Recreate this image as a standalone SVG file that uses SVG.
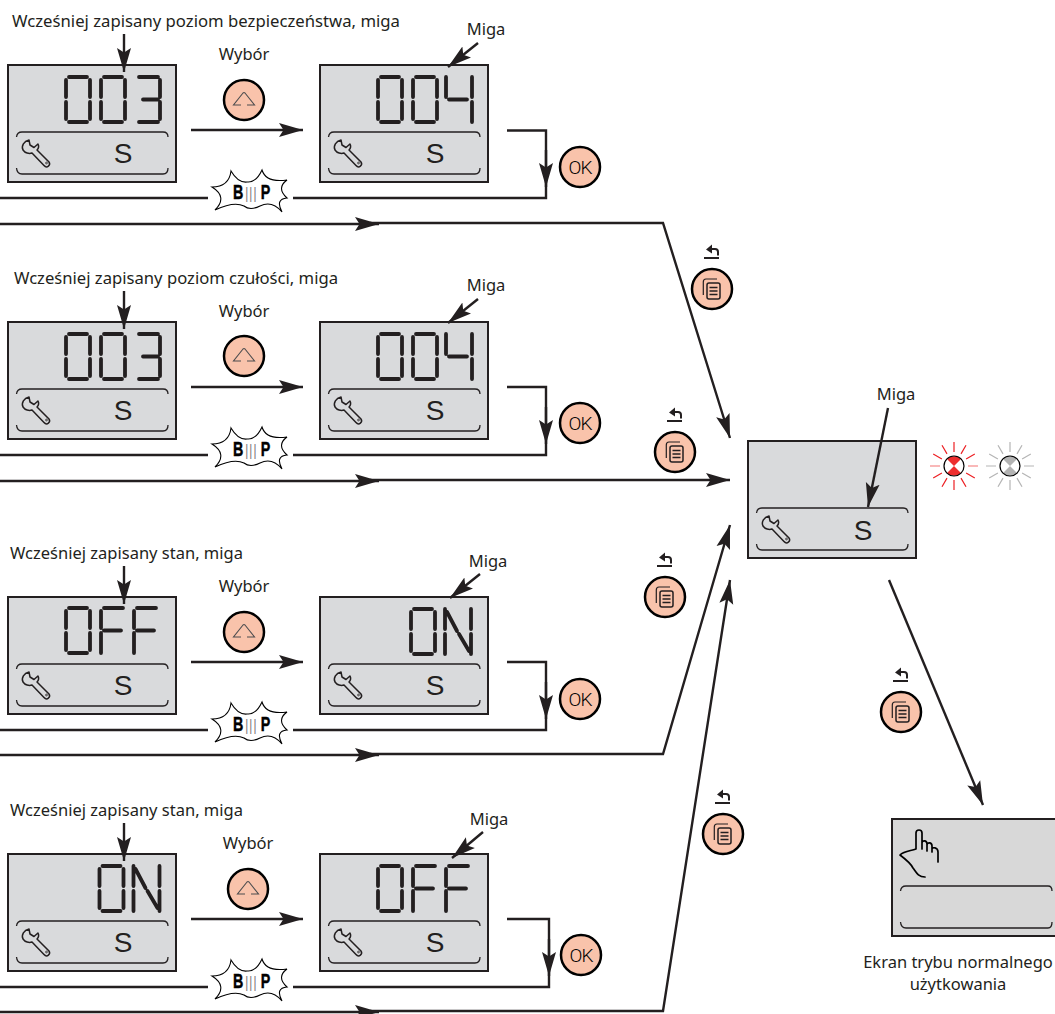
<svg xmlns="http://www.w3.org/2000/svg" width="1055" height="1014" viewBox="0 0 1055 1014">
<style>
.lbl{font-family:"Noto Sans","Open Sans",sans-serif;font-size:16.500px;fill:#231f20}
.long{font-size:16px}
.mid{text-anchor:middle}
.s{font-family:"Liberation Sans",Arial,sans-serif;font-size:28px;fill:#231f20;text-anchor:middle}
.ok{font-family:Roboto,"Liberation Sans",sans-serif;font-weight:300;font-size:19px;fill:#000;text-anchor:middle;letter-spacing:-1px}
.bip{font-family:"Liberation Sans",sans-serif;font-weight:bold;font-size:21px;fill:#000;stroke:#000;stroke-width:.5}
.thin{font-weight:normal;font-size:17px;fill:#777;stroke:none}
.c{fill:none;stroke:#231f20;stroke-width:2.400}
.ce{fill:none;stroke:#231f20;stroke-width:2.400;marker-end:url(#ah)}
.seg{fill:none;stroke:#231f20;stroke-width:3.800;stroke-linecap:round}
.br{fill:none;stroke:#231f20;stroke-width:1.300}
</style>
<defs>
<marker id="ah" markerUnits="userSpaceOnUse" markerWidth="26" markerHeight="16" refX="24" refY="8" orient="auto"><path d="M0,1L24,8L0,15L4.500,8Z" fill="#231f20"/></marker>
<path id="d0" class="seg" d="M4,2H22M25,5V22M25,27V44M4,47H22M1,27V44M1,5V22"/>
<path id="d3" class="seg" d="M2,2H21M23,5V22M23,27V44M2,47H21M6,24.500H21"/>
<path id="d4" class="seg" d="M1,2V22M4,24.500H22M27,2V22M27,27V47"/>
<path id="dF" class="seg" d="M4,2H23M1,5V22M1,27V47M4,24.500H21"/>
<path id="dN" class="seg" d="M1,2V22M1,27V47M27,2V22M27,27V47M3,5L13,24M15,27L25,44"/>
<g id="wrench"><path fill="none" stroke="#231f20" stroke-width="1.500" stroke-linejoin="round" d="M21,75C16,76 13,81 15,85C17,88 21,89 24,88L36,100.500C39,104 43,100 41,97L29,85C31,83 31,81 30,79L26,82.500L22,80Z"/><circle cx="38.500" cy="98" r="0.900" fill="none" stroke="#231f20" stroke-width="0.800"/></g>
<g id="screen"><rect x="0" y="0" width="168" height="117" fill="#d9dadc" stroke="#231f20" stroke-width="2"/><path class="br" d="M8.500,72Q9,67 14,67H155Q160,67 160,72M8.500,103Q9,109 14,109H155Q160,109 160,103"/><use href="#wrench"/></g>
<g id="up"><circle r="20" fill="#f9c3ab" stroke="#000" stroke-width="2.500"/><path fill="none" stroke="#4d4d4f" stroke-width="1.100" d="M-3,5H-10.500L-1,-7Q0,-8 1,-7L10.500,5H3"/></g>
<g id="okb"><circle r="20" fill="#f9c3ab" stroke="#000" stroke-width="2.500"/></g>
<g id="back"><circle r="20" fill="#f9c3ab" stroke="#000" stroke-width="2.500"/><path fill="none" stroke="#231f20" stroke-width="1.200" d="M-8.700,6V-7Q-8.700,-10 -6,-10H5"/><rect x="-5" y="-6" width="13" height="16" rx="2" fill="none" stroke="#231f20" stroke-width="1.500"/><path fill="none" stroke="#231f20" stroke-width="1.300" d="M-2.500,-1.500H5.500M-2.500,2H5.500M-2.500,5.500H5.500"/><path fill="#231f20" d="M-6,-39.500L0,-44.500V-35.500Z"/><path fill="none" stroke="#231f20" stroke-width="2" d="M-1,-40H3Q6,-40 6,-37V-33.500M-8,-31H7"/></g>
<g id="burst"><path fill="#fff" stroke="#000" stroke-width="1.100" d="M-38,-4Q-21,-4 -19,-20Q-12,-8 -3,-9Q6,-8 12,-21Q16,-8 37,-11Q26,-3 37,7Q25,8 32,21Q22,9 10,15Q0,20 -6,15Q-16,10 -35,19Q-22,6 -38,-4Z"/></g>
</defs>

<g id="row1">
<text class="lbl long" x="12" y="27" textLength="388" lengthAdjust="spacingAndGlyphs">Wcześniej zapisany poziom bezpieczeństwa, miga</text>
<g id="screen1a"><use href="#screen" transform="translate(8,65)"/><use href="#d0" transform="translate(65,75)"/><use href="#d0" transform="translate(100,75)"/><use href="#d3" transform="translate(137,75)"/><text class="s" x="123" y="163">S</text></g>
<g id="screen1b"><use href="#screen" transform="translate(320,65)"/><use href="#d0" transform="translate(377,75)"/><use href="#d0" transform="translate(412,75)"/><use href="#d4" transform="translate(445,75)"/><text class="s" x="435" y="163">S</text></g>
<text class="lbl mid" x="486" y="35">Miga</text>
<text class="lbl mid" x="244" y="60">Wybór</text>
<use href="#up" x="244" y="100"/>
<g><use href="#okb" x="580" y="167"/><text class="ok" x="580" y="174">OK</text></g>
<g><use href="#burst" x="250" y="191"/><text class="bip" transform="translate(250,199) scale(.68,1)" x="-25 -7 -1 5 16" y="0">B<tspan class="thin">|||</tspan>P</text></g>
<use href="#back" x="712" y="289"/>
</g>

<g id="row2">
<text class="lbl long" x="14" y="284" textLength="324" lengthAdjust="spacingAndGlyphs">Wcześniej zapisany poziom czułości, miga</text>
<g id="screen2a"><use href="#screen" transform="translate(8,322)"/><use href="#d0" transform="translate(65,332)"/><use href="#d0" transform="translate(100,332)"/><use href="#d3" transform="translate(137,332)"/><text class="s" x="123" y="420">S</text></g>
<g id="screen2b"><use href="#screen" transform="translate(320,322)"/><use href="#d0" transform="translate(377,332)"/><use href="#d0" transform="translate(412,332)"/><use href="#d4" transform="translate(445,332)"/><text class="s" x="435" y="420">S</text></g>
<text class="lbl mid" x="486" y="291">Miga</text>
<text class="lbl mid" x="244" y="317">Wybór</text>
<use href="#up" x="244" y="356"/>
<g><use href="#okb" x="580" y="423"/><text class="ok" x="580" y="430">OK</text></g>
<g><use href="#burst" x="250" y="448"/><text class="bip" transform="translate(250,456) scale(.68,1)" x="-25 -7 -1 5 16" y="0">B<tspan class="thin">|||</tspan>P</text></g>
<use href="#back" x="675" y="452"/>
</g>

<g id="row3">
<text class="lbl long" x="10" y="559" textLength="233" lengthAdjust="spacingAndGlyphs">Wcześniej zapisany stan, miga</text>
<g id="screen3a"><use href="#screen" transform="translate(8,597)"/><use href="#d0" transform="translate(65,606)"/><use href="#dF" transform="translate(100,606)"/><use href="#dF" transform="translate(133,606)"/><text class="s" x="123" y="695">S</text></g>
<g id="screen3b"><use href="#screen" transform="translate(320,597)"/><use href="#d0" transform="translate(410,607)"/><use href="#dN" transform="translate(444,607)"/><text class="s" x="435" y="695">S</text></g>
<text class="lbl mid" x="488" y="567">Miga</text>
<text class="lbl mid" x="244" y="592">Wybór</text>
<use href="#up" x="244" y="632"/>
<g><use href="#okb" x="580" y="699"/><text class="ok" x="580" y="706">OK</text></g>
<g><use href="#burst" x="250" y="723"/><text class="bip" transform="translate(250,731) scale(.68,1)" x="-25 -7 -1 5 16" y="0">B<tspan class="thin">|||</tspan>P</text></g>
<use href="#back" x="665" y="597"/>
</g>

<g id="row4">
<text class="lbl long" x="10" y="816" textLength="233" lengthAdjust="spacingAndGlyphs">Wcześniej zapisany stan, miga</text>
<g id="screen4a"><use href="#screen" transform="translate(8,854)"/><use href="#d0" transform="translate(98.500,864)"/><use href="#dN" transform="translate(132.500,864)"/><text class="s" x="123" y="952">S</text></g>
<g id="screen4b"><use href="#screen" transform="translate(320,854)"/><use href="#d0" transform="translate(377,864)"/><use href="#dF" transform="translate(412,864)"/><use href="#dF" transform="translate(445,864)"/><text class="s" x="435" y="952">S</text></g>
<text class="lbl mid" x="489" y="825">Miga</text>
<text class="lbl mid" x="248" y="849">Wybór</text>
<use href="#up" x="248" y="889"/>
<g><use href="#okb" x="581" y="955"/><text class="ok" x="581" y="962">OK</text></g>
<g><use href="#burst" x="250" y="980"/><text class="bip" transform="translate(250,988) scale(.68,1)" x="-25 -7 -1 5 16" y="0">B<tspan class="thin">|||</tspan>P</text></g>
<use href="#back" x="723" y="834"/>
</g>

<g id="final">
<text class="lbl mid" x="896" y="400">Miga</text>
<g id="screen5"><use href="#screen" transform="translate(748,441)"/><text class="s" x="863" y="540">S</text></g>
<g id="led-red" transform="translate(954,466)">
<path stroke="#ed2024" stroke-width="1.200" d="M0,-14V-24M7,-12.100L12,-20.800M12.100,-7L20.800,-12M12.100,7L20.800,12M7,12.100L12,20.800M0,14V24M-7,12.100L-12,20.800M-12.100,7L-20.800,12M-12.100,-7L-20.800,-12M-7,-12.100L-12,-20.800"/>
<path stroke="#f7a1a1" stroke-width="1.500" d="M14,0H24M-14,0H-24"/>
<circle r="10" fill="#fff"/><path fill="#ed2e2e" d="M0,0L-7,-7A10,10 0 0 1 7,-7ZM0,0L7,7A10,10 0 0 1 -7,7Z"/><circle r="10" fill="none" stroke="#000" stroke-width="1.200"/>
</g>
<g id="led-grey" transform="translate(1010,466)">
<path stroke="#b5b5b5" stroke-width="1.200" d="M0,-14V-24M7,-12.100L12,-20.800M12.100,-7L20.800,-12M12.100,7L20.800,12M7,12.100L12,20.800M0,14V24M-7,12.100L-12,20.800M-12.100,7L-20.800,12M-12.100,-7L-20.800,-12M-7,-12.100L-12,-20.800M14,0H24M-14,0H-24"/>
<circle r="10" fill="#fff"/><path fill="#b3b3b3" d="M0,0L-7,-7A10,10 0 0 1 7,-7ZM0,0L7,7A10,10 0 0 1 -7,7Z"/><circle r="10" fill="none" stroke="#000" stroke-width="1.200"/>
</g>
<use href="#back" x="901" y="712"/>
<g id="normal">
<rect x="892" y="819" width="168" height="117" fill="#d8d8d8" stroke="#231f20" stroke-width="2"/>
<path class="br" d="M900.500,891Q901,886 906,886H1048Q1052,886 1052,891M900.500,922Q901,928 906,928H1048Q1052,928 1052,922"/>
<path fill="none" stroke="#000" stroke-width="1.700" stroke-linejoin="round" stroke-linecap="round" d="M925,877C918,877 916,872 913,868C911,864 908,861 900,855C904,851 910,851 916,849V833C916,829 922,829 922,833V849M922,843C922,840 927,840 927,844V851M927,845C927,842 932,842 932,846V852M932,849C932,847 938,847 938,852V862"/>
</g>
<text class="lbl mid" x="958" y="968">Ekran trybu normalnego</text>
<text class="lbl mid" x="958" y="990">użytkowania</text>
</g>

<g id="connectors">
<path class="ce" d="M124,34V72"/>
<path class="ce" d="M478,43L448,67"/>
<path class="ce" d="M191,130H303"/>
<path class="c" d="M507,130.500H546V198H293"/>
<path class="ce" d="M546,150V187"/>
<path class="c" d="M208,198H0"/>
<path class="ce" d="M0,224H379"/>
<path class="ce" d="M370,223H663L730,438"/>

<path class="ce" d="M124,291V329"/>
<path class="ce" d="M478,299L448,323"/>
<path class="ce" d="M191,387H303"/>
<path class="c" d="M507,387H546V455H293"/>
<path class="ce" d="M546,407V444"/>
<path class="c" d="M208,455H0"/>
<path class="ce" d="M0,481H379"/>
<path class="ce" d="M370,480H730"/>

<path class="ce" d="M124,566V604"/>
<path class="ce" d="M480,574L450,598"/>
<path class="ce" d="M191,662H303"/>
<path class="c" d="M507,662H546V730H293"/>
<path class="ce" d="M546,682V719"/>
<path class="c" d="M208,730H0"/>
<path class="ce" d="M0,755H379"/>
<path class="ce" d="M370,754H663L730,525"/>

<path class="ce" d="M124,823V861"/>
<path class="ce" d="M483,832L452,858"/>
<path class="ce" d="M191,919H303"/>
<path class="c" d="M507,919H549V987H293"/>
<path class="ce" d="M549,939V976"/>
<path class="c" d="M208,987H0"/>
<path class="ce" d="M0,1012H379"/>
<path class="ce" d="M370,1011H663L730,580"/>

<path class="ce" d="M888,408L868,507"/>
<path class="ce" d="M889,580L983,805"/>
</g>
</svg>
